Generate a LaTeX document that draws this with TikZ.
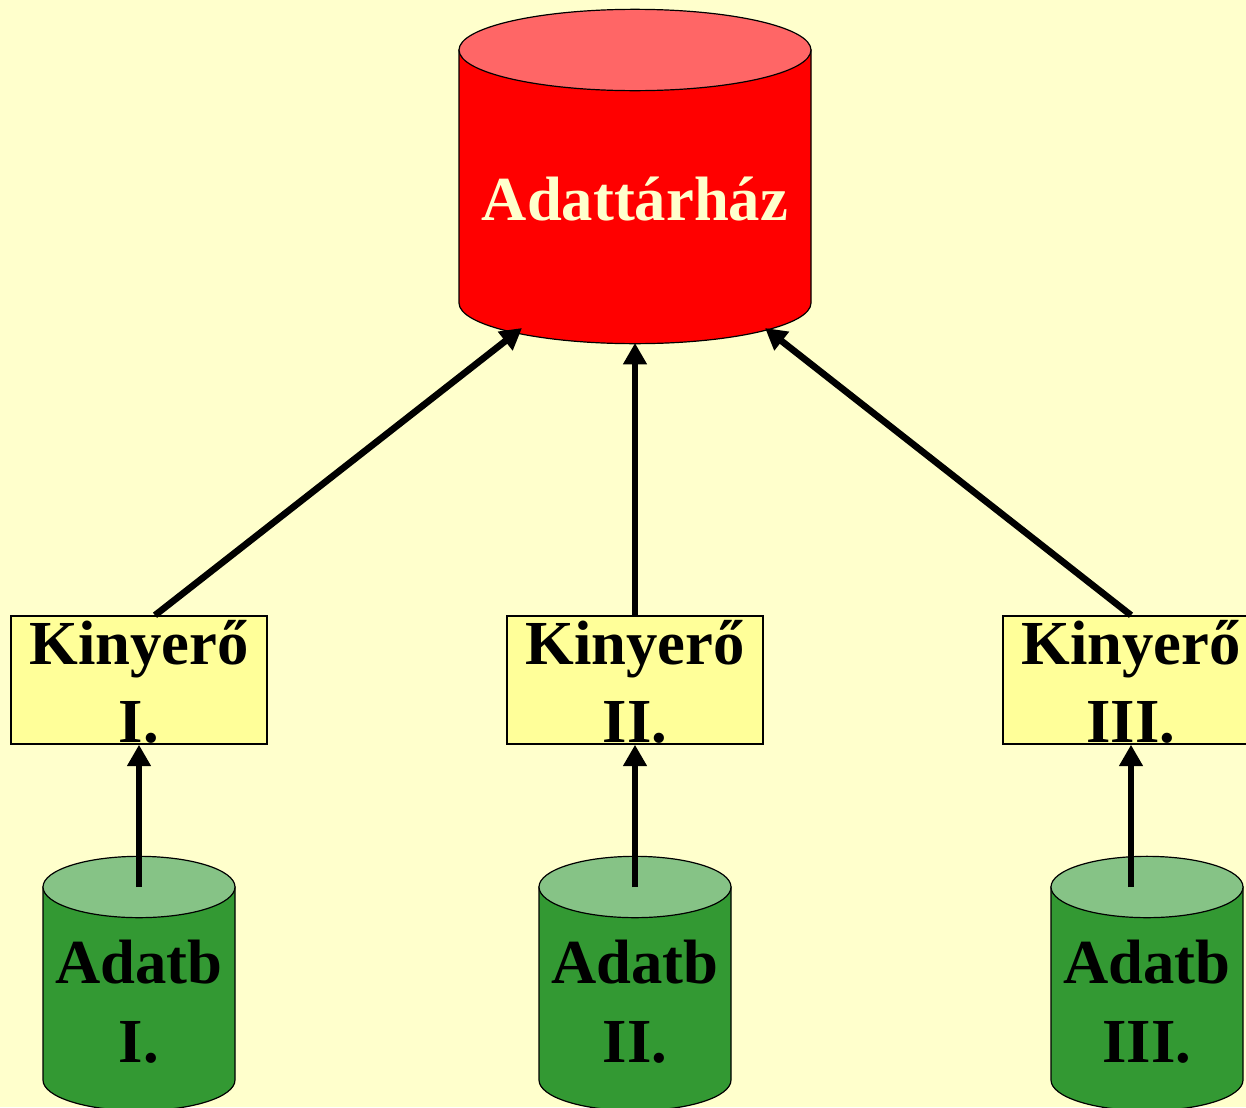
\documentclass[tikz,border=0pt]{standalone}
\usepackage{fontspec}
\setmainfont{Liberation Serif}
\usetikzlibrary{arrows.meta}
\definecolor{bgyellow}{HTML}{FFFFCC}
\definecolor{boxyellow}{HTML}{FFFF99}
\definecolor{redtop}{HTML}{FF6666}
\definecolor{redbody}{HTML}{FF0000}
\definecolor{greentop}{HTML}{86C386}
\definecolor{greenbody}{HTML}{339933}
\tikzset{
  kbox/.style={draw=black, line width=1.1pt, fill=boxyellow,
    minimum width=192pt, minimum height=96pt, inner sep=0pt},
  lbl/.style={anchor=base, inner sep=0pt,
    font=\fontsize{47}{56}\selectfont\bfseries},
  arr/.style={line width=5pt, -{Triangle[length=16pt,width=17pt]}},
  cylline/.style={draw=black, line width=0.9pt}
}
\begin{document}
\begin{tikzpicture}[x=0.75pt, y=-0.75pt]
  \useasboundingbox[fill=bgyellow] (0,0) rectangle (1246,1107);

  % data warehouse
  \filldraw[cylline, fill=redbody] (459,50) -- (459,303)
    arc[start angle=180, end angle=360, x radius=132pt, y radius=30.5pt] -- (811,50) -- cycle;
  \filldraw[cylline, fill=redtop] (635,50) ellipse [x radius=132pt, y radius=30.5pt];
  \node[lbl, text=bgyellow] (dwtext) at (635,220) {Adattárház};
  \coordinate (dwL) at (522,328);
  \coordinate (dwM) at (635,343);
  \coordinate (dwR) at (765,328);

  % source databases
  \foreach \n/\cx/\lab in {1/139/I., 2/635/II., 3/1147/III.} {
    \filldraw[cylline, fill=greenbody] (\cx-96,887) -- (\cx-96,1080)
      arc[start angle=180, end angle=360, x radius=72pt, y radius=23pt] -- (\cx+96,887) -- cycle;
    \filldraw[cylline, fill=greentop] (\cx,887) ellipse [x radius=72pt, y radius=23pt];
    \node[lbl] (db\n a) at (\cx,983) {Adatb};
    \node[lbl] (db\n b) at (\cx,1062) {\lab};
  }

  % extractors
  \foreach \n/\cx/\lab in {1/139/I., 2/635/II., 3/1131/III.} {
    \node[kbox] (k\n) at (\cx,680) {};
    \node[lbl] (k\n a) at (\cx,664) {Kinyerő};
    \node[lbl] (k\n b) at (\cx,742) {\lab};
  }
  \coordinate (a1) at (139,887);
  \coordinate (a2) at (635,887);
  \coordinate (a3) at (1131,887);

  % flows
  \draw[arr] (a1) -- (k1.south);
  \draw[arr] (a2) -- (k2.south);
  \draw[arr] (a3) -- (k3.south);
  \draw[arr] ([xshift=12pt]k1.north) -- (dwL);
  \draw[arr] (k2.north) -- (dwM);
  \draw[arr] (k3.north) -- (dwR);
\end{tikzpicture}
\end{document}
